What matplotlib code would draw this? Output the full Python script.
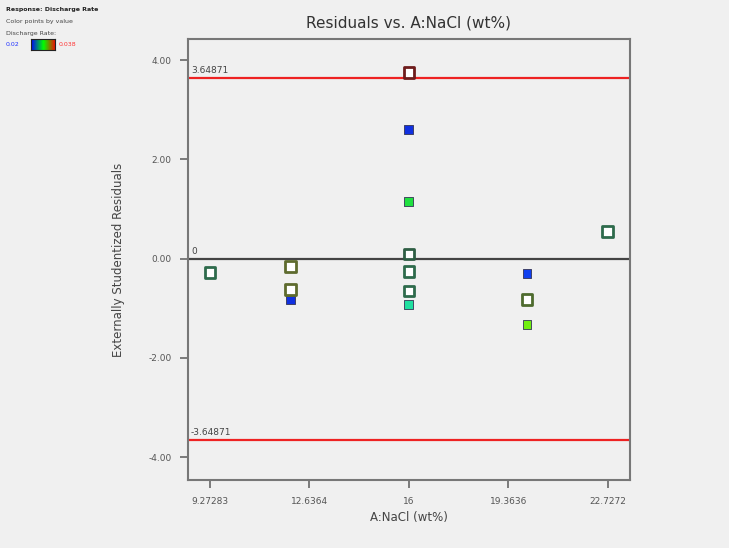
import numpy as np
import matplotlib
matplotlib.use("Agg")
import matplotlib.pyplot as plt
from matplotlib.colors import LinearSegmentedColormap

# Data
x_ticks = [9.27283, 12.6364, 16, 19.3636, 22.7272]
x_tick_labels = ["9.27283", "12.6364", "16", "19.3636", "22.7272"]
y_ticks = [-4, -2, 0, 2, 4]
y_tick_labels = ["-4.00", "-2.00", "0.00", "2.00", "4.00"]
limit = 3.64871

# open (hollow) squares
open_x = [9.27283, 12.0, 12.0, 16, 16, 16, 16, 20.0, 22.7272]
open_y = [-0.28, -0.16, -0.62, 3.75, 0.10, -0.26, -0.65, -0.82, 0.55]
open_edge = ["#2e6b4c", "#5e6b2e", "#5e6b2e", "#6e1c1c", "#2e5e44", "#2e6b4c", "#2e6b4c", "#4e6b2e", "#2e6b4c"]

# filled squares
fill_x = [12.0, 16, 16, 16, 20.0, 20.0]
fill_y = [-0.83, 2.60, 1.15, -0.93, -0.30, -1.33]
fill_color = ["#1030e0", "#1030e0", "#20e040", "#20e0a0", "#1040f0", "#70ee10"]

fig = plt.figure(figsize=(7.29, 5.48), dpi=100)
fig.patch.set_facecolor("#f0f0f0")
ax = fig.add_axes([0.258, 0.124, 0.606, 0.805])
ax.set_facecolor("#f0f0f0")

ax.set_xlim(8.53, 23.48)
ax.set_ylim(-4.46, 4.43)

ax.axhline(limit, color="#ee2222", lw=1.6, zorder=1)
ax.axhline(-limit, color="#ee2222", lw=1.6, zorder=1)
ax.axhline(0, color="#444444", lw=1.6, zorder=1)

ax.text(8.63, limit + 0.05, "3.64871", fontsize=6.5, color="#444444", va="bottom", ha="left")
ax.text(8.63, -limit + 0.05, "-3.64871", fontsize=6.5, color="#444444", va="bottom", ha="left")
ax.text(8.63, 0.05, "0", fontsize=6.5, color="#444444", va="bottom", ha="left")

ax.scatter(fill_x, fill_y, marker="s", s=40, c=fill_color, edgecolors="#333355", linewidths=0.6, zorder=3)
ax.scatter(open_x, open_y, marker="s", s=56, facecolors="white", edgecolors=open_edge, linewidths=2.0, zorder=4)

ax.set_xticks(x_ticks)
ax.set_xticklabels(x_tick_labels)
ax.set_yticks(y_ticks)
ax.set_yticklabels(y_tick_labels)
ax.tick_params(axis="both", direction="out", length=6, width=1.2, color="#666666",
               labelsize=6.5, labelcolor="#555555", pad=6)
for sp in ax.spines.values():
    sp.set_color("#777777")
    sp.set_linewidth(1.5)

ax.set_title("Residuals vs. A:NaCl (wt%)", fontsize=11, color="#333333", pad=8)
ax.set_xlabel("A:NaCl (wt%)", fontsize=8.5, color="#444444", labelpad=4)
ax.set_ylabel("Externally Studentized Residuals", fontsize=8.5, color="#444444", labelpad=17)

# top-left legend
fig.text(0.008, 0.982, "Response: Discharge Rate", fontsize=4.5, fontweight="bold", color="#222222", va="center")
fig.text(0.008, 0.960, "Color points by value", fontsize=4.5, color="#444444", va="center")
fig.text(0.008, 0.939, "Discharge Rate:", fontsize=4.5, color="#444444", va="center")
fig.text(0.008, 0.918, "0.02", fontsize=4.5, color="#2233ff", va="center")
fig.text(0.080, 0.918, "0.038", fontsize=4.5, color="#ff3333", va="center")
cax = fig.add_axes([0.042, 0.908, 0.034, 0.020])
cmap = LinearSegmentedColormap.from_list("dr", ["#0000ff", "#00ff00", "#ff0000"])
cax.imshow(np.linspace(0, 1, 100)[None, :], aspect="auto", cmap=cmap)
cax.set_xticks([]); cax.set_yticks([])
for sp in cax.spines.values():
    sp.set_color("#222222"); sp.set_linewidth(0.8)

fig.savefig("out.png", dpi=100, facecolor=fig.get_facecolor())
